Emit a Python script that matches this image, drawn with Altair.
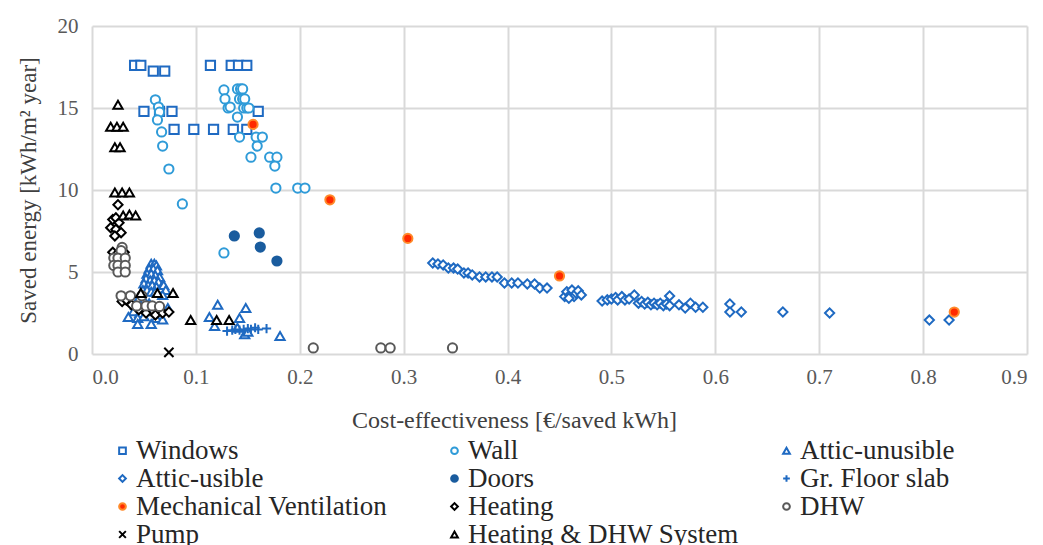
import altair as alt
import pandas as pd

series_order = ["Windows", "Wall", "Attic-unusible", "Attic-usible", "Doors", "Gr. Floor slab",
                "Mechanical Ventilation", "Heating", "DHW", "Pump", "Heating & DHW System"]

windows_x = [0.041, 0.047, 0.059, 0.070, 0.114, 0.134, 0.141, 0.149,
             0.050, 0.065, 0.077, 0.160,
             0.079, 0.098, 0.117, 0.136, 0.149]
windows_y = [17.6, 17.6, 17.25, 17.25, 17.6, 17.6, 17.6, 17.6,
             14.8, 14.8, 14.8, 14.8,
             13.7, 13.7, 13.7, 13.7, 13.7]

wall_x = [0.061, 0.064, 0.065, 0.063, 0.067, 0.068, 0.074, 0.087, 0.127,
          0.127, 0.128, 0.140, 0.143, 0.145, 0.142, 0.145, 0.147, 0.131, 0.133, 0.146, 0.149, 0.151,
          0.140, 0.142, 0.158, 0.164, 0.159, 0.153, 0.171, 0.178, 0.176, 0.177, 0.198, 0.205]
wall_y = [15.5, 15.06, 14.75, 14.27, 13.54, 12.68, 11.28, 9.15, 6.16,
          16.1, 15.55, 16.16, 16.16, 16.16, 15.55, 15.55, 15.55, 15.0, 15.06, 15.0, 15.0, 15.0,
          14.45, 13.23, 13.23, 13.23, 12.68, 12.0, 12.0, 12.0, 11.46, 10.12, 10.12, 10.12]

attic_un_x = [0.057, 0.060, 0.062, 0.055, 0.059, 0.063, 0.053, 0.057, 0.061, 0.065, 0.052, 0.056,
              0.060, 0.064, 0.050, 0.054, 0.058, 0.062, 0.066, 0.069, 0.049, 0.053, 0.057, 0.061,
              0.071, 0.068, 0.045, 0.050, 0.055, 0.042, 0.048, 0.053, 0.040, 0.046, 0.058, 0.073,
              0.035, 0.044, 0.050, 0.062, 0.044, 0.057, 0.068,
              0.121, 0.148, 0.113, 0.142, 0.118, 0.147, 0.181, 0.140, 0.150]
attic_un_y = [5.5, 5.5, 5.4, 5.2, 5.2, 5.1, 4.9, 4.9, 4.8, 4.7, 4.6, 4.5,
              4.5, 4.4, 4.3, 4.2, 4.2, 4.1, 4.0, 4.2, 3.9, 3.9, 3.8, 3.8,
              3.9, 3.6, 3.4, 3.3, 3.1, 3.0, 2.9, 2.8, 2.6, 2.5, 2.6, 2.8,
              2.26, 2.2, 2.3, 2.2, 1.83, 1.83, 2.1,
              3.0, 2.8, 2.26, 2.2, 1.7, 1.2, 1.1, 1.6, 1.35]

attic_us_x = [0.328, 0.333, 0.338, 0.343, 0.348, 0.352, 0.358, 0.362, 0.366, 0.373, 0.379, 0.385,
              0.390, 0.397, 0.404, 0.410, 0.419, 0.426, 0.431, 0.438,
              0.455, 0.457, 0.460, 0.462, 0.464, 0.466, 0.468, 0.471, 0.459,
              0.491, 0.496, 0.500, 0.504, 0.506, 0.510, 0.513, 0.517, 0.522, 0.526, 0.529, 0.532,
              0.535, 0.538, 0.541, 0.544, 0.547, 0.550, 0.553, 0.556, 0.556, 0.565, 0.571, 0.576,
              0.581, 0.588, 0.614, 0.614, 0.625, 0.665, 0.710, 0.806, 0.825]
attic_us_y = [5.55, 5.49, 5.43, 5.24, 5.24, 5.18, 4.94, 4.94, 4.82, 4.70, 4.70, 4.70,
              4.70, 4.33, 4.33, 4.33, 4.27, 4.27, 4.02, 4.02,
              3.5, 3.8, 3.6, 3.9, 3.5, 3.7, 3.85, 3.6, 3.4,
              3.23, 3.3, 3.35, 3.45, 3.3, 3.5, 3.3, 3.35, 3.6, 3.1, 3.2, 3.05,
              3.15, 3.0, 3.1, 3.0, 3.1, 2.95, 3.05, 3.54, 2.95, 3.0, 2.8, 3.1,
              2.85, 2.85, 3.05, 2.56, 2.56, 2.56, 2.5, 2.07, 2.07]

doors_x = [0.137, 0.161, 0.162, 0.178]
doors_y = [7.2, 7.38, 6.52, 5.67]

slab_x = [0.130, 0.135, 0.138, 0.142, 0.146, 0.150, 0.153, 0.157, 0.160, 0.168]
slab_y = [1.4, 1.45, 1.5, 1.45, 1.5, 1.55, 1.5, 1.6, 1.5, 1.55]

mv_x = [0.155, 0.229, 0.304, 0.450, 0.830]
mv_y = [14.0, 9.4, 7.05, 4.76, 2.56]

heating_x = [0.025, 0.020, 0.023, 0.026, 0.018, 0.023, 0.028, 0.022, 0.020, 0.025, 0.031,
             0.029, 0.033, 0.038, 0.045, 0.052, 0.061, 0.068, 0.074]
heating_y = [9.1, 8.2, 8.3, 8.0, 7.7, 7.6, 7.4, 7.2, 6.2, 6.15, 6.2,
             3.2, 3.3, 3.0, 2.7, 2.5, 2.38, 2.5, 2.56]

dhw_x = [0.029, 0.028, 0.021, 0.025, 0.032, 0.021, 0.025, 0.032, 0.025, 0.032,
         0.028, 0.037, 0.048, 0.043, 0.052, 0.058, 0.065,
         0.213, 0.278, 0.287, 0.347]
dhw_y = [6.5, 6.3, 5.85, 5.85, 5.85, 5.4, 5.4, 5.4, 5.0, 5.0,
         3.55, 3.55, 3.55, 2.93, 2.93, 2.93, 2.9,
         0.37, 0.37, 0.37, 0.37]

pump_x = [0.074]
pump_y = [0.1]

hds_x = [0.025, 0.018, 0.024, 0.030, 0.022, 0.027, 0.022, 0.029, 0.036, 0.030, 0.036, 0.042,
         0.047, 0.063, 0.078, 0.095, 0.120, 0.132]
hds_y = [15.2, 13.85, 13.85, 13.85, 12.6, 12.6, 9.85, 9.85, 9.85, 8.45, 8.5, 8.45,
         3.72, 3.72, 3.72, 2.07, 2.07, 2.07]

all_series = [
    ("Windows", windows_x, windows_y),
    ("Wall", wall_x, wall_y),
    ("Attic-unusible", attic_un_x, attic_un_y),
    ("Attic-usible", attic_us_x, attic_us_y),
    ("Doors", doors_x, doors_y),
    ("Gr. Floor slab", slab_x, slab_y),
    ("Mechanical Ventilation", mv_x, mv_y),
    ("Heating", heating_x, heating_y),
    ("DHW", dhw_x, dhw_y),
    ("Pump", pump_x, pump_y),
    ("Heating & DHW System", hds_x, hds_y),
]

rows = []
for name, xs, ys in all_series:
    for x, y in zip(xs, ys):
        rows.append({"series": name, "x": x, "y": y, "order": series_order.index(name)})
df = pd.DataFrame(rows)

PLUS = "M-1,0L1,0M0,-1L0,1"
CROSS = "M-1,-1L1,1M-1,1L1,-1"
shapes = ["square", "circle", "triangle-up", "diamond", "circle", PLUS,
          "circle", "diamond", "circle", CROSS, "triangle-up"]
strokes = ["#1F6AC2", "#2F9BD8", "#1F6AC2", "#1F6AC2", "#1A5C9E", "#1F6AC2",
           "#FF8A2A", "#000000", "#595959", "#000000", "#000000"]
fills = ["white", "white", "white", "white", "#1A5C9E", "transparent",
         "#FF2A00", "white", "white", "transparent", "white"]

FONT = "Liberation Serif"

chart = alt.Chart(df).mark_point(size=85, strokeWidth=2, opacity=1).encode(
    x=alt.X("x:Q", scale=alt.Scale(domain=[0, 0.9], nice=False, zero=True, padding=0),
            axis=alt.Axis(values=[0, 0.1, 0.2, 0.3, 0.4, 0.5, 0.6, 0.7, 0.8, 0.9], format=".1f",
                          title="Cost-effectiveness [€/saved kWh]", titleX=422, titleAlign="center")),
    y=alt.Y("y:Q", scale=alt.Scale(domain=[0, 20], nice=False, padding=0),
            axis=alt.Axis(values=[0, 5, 10, 15, 20], title="Saved energy [kWh/m² year]",
                          titleFontSize=23)),
    shape=alt.Shape("series:N", scale=alt.Scale(domain=series_order, range=shapes),
                    legend=alt.Legend(title=None)),
    stroke=alt.Stroke("series:N", scale=alt.Scale(domain=series_order, range=strokes),
                      legend=alt.Legend(title=None)),
    fill=alt.Fill("series:N", scale=alt.Scale(domain=series_order, range=fills),
                  legend=alt.Legend(title=None)),
    order=alt.Order("order:Q"),
).properties(
    width=935, height=328,
    autosize=alt.AutoSizeParams(type="none"),
    padding={"left": 92, "top": 26, "right": 16, "bottom": 191},
).configure_view(
    stroke=None
).configure_axis(
    grid=True, gridColor="#D9D9D9", gridWidth=2, domain=False, ticks=False,
    labelFont=FONT, labelFontSize=21, labelColor="#595959",
    titleFont=FONT, titleFontSize=24, titleColor="#404040", titleFontWeight="normal",
).configure_axisX(
    labelPadding=12, titlePadding=21,
).configure_axisY(
    labelPadding=14, titlePadding=17,
).configure_legend(
    orient="none", legendX=17, legendY=411, columns=3, direction="horizontal", gridAlign="all",
    columnPadding=34, rowPadding=0,
    labelFont=FONT, labelFontSize=27, labelColor="#262626", labelLimit=400,
    symbolSize=45, symbolStrokeWidth=2, labelOffset=0,
)

chart.save("out.html", embed_options={"renderer": "svg", "actions": False})
